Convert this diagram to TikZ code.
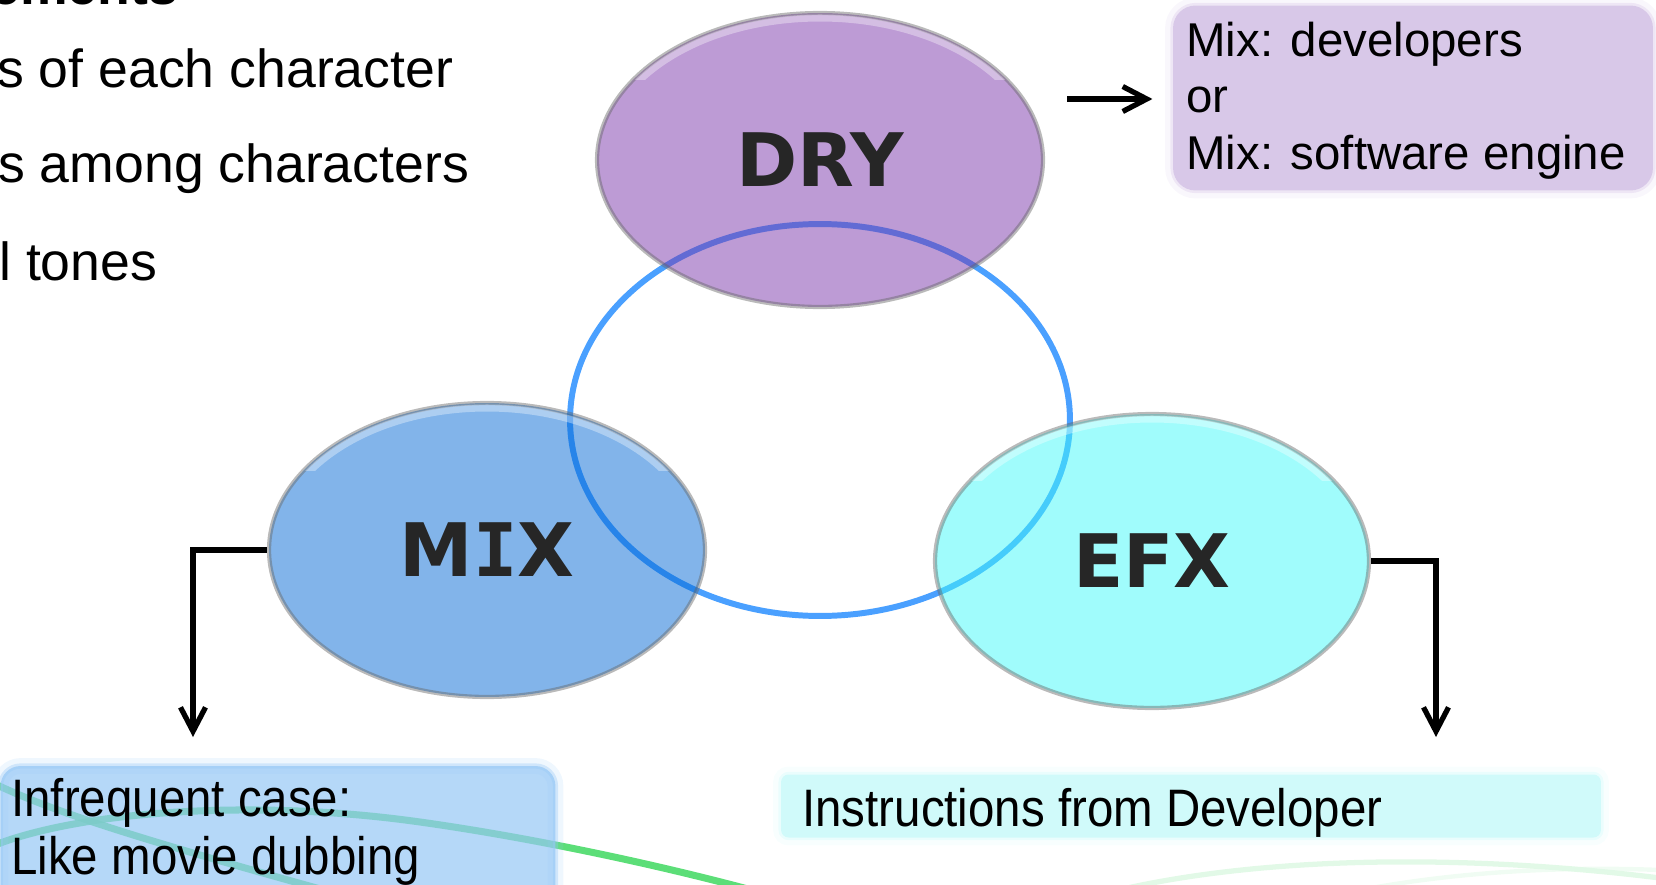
\documentclass[tikz,border=0pt]{standalone}
\usepackage{fontspec}
\setmainfont{Liberation Sans}
\newfontfamily\condfont[FakeStretch=0.9]{Liberation Sans}
\newfontfamily\labelfont{DejaVu Sans}
\newfontfamily\labelmono{DejaVu Sans Mono}
\usetikzlibrary{shapes.geometric,arrows.meta,calc}

\definecolor{ringblue}{RGB}{74,160,255}
\definecolor{dryfill}{RGB}{123,55,171}
\definecolor{mixfill}{RGB}{5,105,213}
\definecolor{efxfill}{RGB}{65,249,249}
\definecolor{drybg}{RGB}{216,200,232}
\definecolor{mixbg}{RGB}{149,199,245}
\definecolor{efxbg}{RGB}{208,250,250}
\definecolor{swoosh}{RGB}{64,216,96}
\definecolor{labelgray}{RGB}{38,38,38}

\tikzset{
  bubble/.style={ellipse, inner sep=0pt, fill opacity=0.5, text opacity=1,
    draw=black!60, draw opacity=0.45, line width=2.4pt,
    text=labelgray, font=\labelfont\bfseries\fontsize{42}{42}\selectfont},
  hilite/.style={white, opacity=0.35, line width=4pt},
  arr/.style={line width=3.2pt,
    -{Straight Barb[length=4.8mm, width=5mm, line width=3pt]}},
  bodytext/.style={inner sep=0pt, anchor=base west,
    font=\fontsize{30.5}{36}\selectfont},
  notetext/.style={inner sep=0pt, anchor=base west,
    font=\fontsize{27}{32}\selectfont},
  condtext/.style={inner sep=0pt, anchor=base west,
    font=\condfont\fontsize{30}{36}\selectfont},
  softbox/.style={inner sep=0pt, fill=#1, draw=#1, line width=3pt,
    draw opacity=0.35,
    preaction={draw=#1, draw opacity=0.15, line width=9pt}},
}

\begin{document}
\begin{tikzpicture}[x=0.02cm, y=-0.02cm]
\useasboundingbox (0,0) rectangle (1656,885);
\clip (0,0) rectangle (1656,885);

% bullet text running in from the left edge
\node[bodytext] (h0) at (-10,5) {\bfseries ements};
\node[bodytext] (b1) at (-3,88) {s of each character};
\node[bodytext] (b2) at (-2,183) {s among characters};
\node[bodytext] (b3) at (-1,280) {l tones};

% faint background swooshes
\draw[swoosh!25, line width=3pt, opacity=0.6]
  (1110,892) .. controls (1250,858) and (1450,852) .. (1660,878);
\draw[swoosh!15, line width=2.5pt, opacity=0.5]
  (1350,892) .. controls (1450,872) and (1560,866) .. (1660,870);
\draw[swoosh, line width=4pt, opacity=0.85]
  (-5,845) .. controls (80,812) and (250,798) .. (420,822)
           .. controls (520,836) and (650,862) .. (770,895);
\draw[swoosh, line width=4pt, opacity=0.85]
  (-5,784) .. controls (60,815) and (160,845) .. (360,900);

% linking ring
\node[ellipse, draw=ringblue, line width=3.4pt, inner sep=0pt,
      minimum width=10cm, minimum height=7.84cm] (ring) at (820,420) {};

% the three sound layers
\node[bubble, fill=dryfill, minimum width=8.92cm, minimum height=5.88cm]
  (dry) at (820,160) {DRY};
\node[bubble, fill=mixfill, minimum width=8.72cm, minimum height=5.88cm]
  (mix) at (487,550) {M{\labelmono\bfseries I}X};
\node[bubble, fill=efxfill, minimum width=8.68cm, minimum height=5.88cm]
  (efx) at (1152,561) {EFX};

% glossy upper rims
\begin{scope}
  \clip (560,0) rectangle (1080,80);
  \draw[hilite] (820,160) ellipse [x radius=218, y radius=142];
\end{scope}
\begin{scope}
  \clip (250,390) rectangle (720,470);
  \draw[hilite] (487,550) ellipse [x radius=213, y radius=142];
\end{scope}
\begin{scope}
  \clip (920,400) rectangle (1390,480);
  \draw[hilite] (1152,561) ellipse [x radius=212, y radius=142];
\end{scope}

% note boxes
\node[softbox=drybg, rounded corners=0.45cm,
      minimum width=9.6cm, minimum height=3.7cm] (drybox) at (1413,98) {};
\node[softbox=mixbg, fill opacity=0.7, rounded corners=0.4cm,
      minimum width=11.1cm, minimum height=2.8cm] (mixbox) at (278,836) {};
\node[softbox=efxbg, rounded corners=0.15cm,
      minimum width=16.4cm, minimum height=1.26cm] (efxbox) at (1191,806) {};

\node[notetext] (d1) at (1186,57) {Mix: developers};
\node[notetext] (d2) at (1186,113) {or};
\node[notetext] (d3) at (1186,170) {Mix: software engine};

\node[condtext] (m1) at (11,816) {Infrequent case:};
\node[condtext] (m2) at (11,874) {Like movie dubbing};

\node[condtext] (e1) at (802,826) {Instructions from Developer};

% connectors
\coordinate (dstart) at (1067,99);
\coordinate (mend) at (193,737);
\coordinate (eend) at (1436,737);
\draw[arr, shorten >=0.36cm] (dstart) -- (drybox.west |- dstart);
\draw[arr] (mix.west) -| (mend);
\draw[arr] (efx.east) -| (eend);
\end{tikzpicture}
\end{document}
